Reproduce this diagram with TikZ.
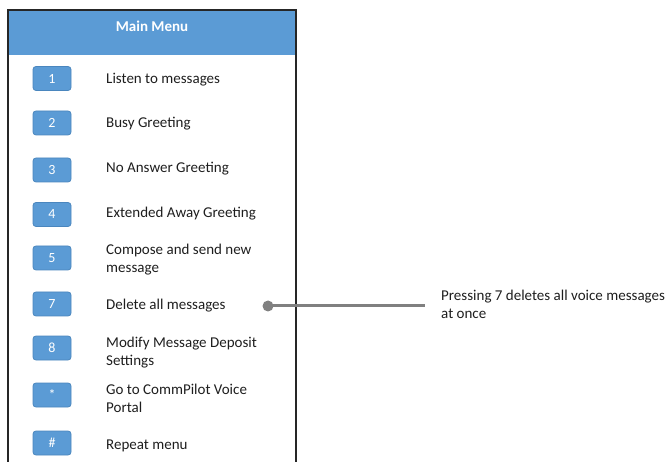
\documentclass[tikz,border=0pt]{standalone}
\usepackage{fontspec}
\setmainfont{Carlito}
\begin{document}
\begin{tikzpicture}[x=1pt,y=-1pt,
  keybtn/.style={draw=keyedge,fill=keyblue,rounded corners=3pt,line width=0.8pt,
    minimum width=38pt,minimum height=24pt,inner sep=0pt,text=white,font=\fontsize{14}{14}\selectfont},
  itemtxt/.style={anchor=west,align=left,text=txt,font=\fontsize{15}{18}\selectfont,inner sep=0pt},
  callout/.style={draw=callgray,line width=3pt}
]
\definecolor{keyblue}{HTML}{5B9BD5}
\definecolor{keyedge}{HTML}{4A86BE}
\definecolor{txt}{HTML}{1E1E1E}
\definecolor{callgray}{HTML}{808080}
\useasboundingbox (0,0) rectangle (672,462);

% header band and frame (open at the bottom)
\fill[keyblue] (8,10) rectangle (296,55);
\node[text=white,font=\bfseries\fontsize{15}{15}\selectfont] (title) at (152,26) {Main Menu};
\draw[line width=1.6pt,black!85] (8,470) -- (8,10) -- (296,10) -- (296,470);

% menu keys
\node[keybtn] (k1) at (52,78.5) {1};
\node[keybtn] (k2) at (52,123) {2};
\node[keybtn] (k3) at (52,170) {3};
\node[keybtn] (k4) at (52,214.5) {4};
\node[keybtn] (k5) at (52,258) {5};
\node[keybtn] (k7) at (52,304) {7};
\node[keybtn] (k8) at (52,348) {8};
\node[keybtn] (kst) at (52,395) {*};
\node[keybtn] (kh) at (52,443) {\#};

% menu labels
\node[itemtxt] (t1) at (106,80) {Listen to messages};
\node[itemtxt] (t2) at (106,124) {Busy Greeting};
\node[itemtxt] (t3) at (106,169) {No Answer Greeting};
\node[itemtxt] (t4) at (106,214) {Extended Away Greeting};
\node[itemtxt] (t5) at (106,260) {Compose and send new\\message};
\node[itemtxt] (t7) at (106,306) {Delete all messages};
\node[itemtxt] (t8) at (106,352.5) {Modify Message Deposit\\Settings};
\node[itemtxt] (tst) at (106,398) {Go to CommPilot Voice\\Portal};
\node[itemtxt] (th) at (106,446) {Repeat menu};

% callout for key 7
\coordinate (dot) at (268,306);
\coordinate (lineend) at (425,306);
\node[itemtxt] (note) at (441,304) {Pressing 7 deletes all voice messages\\at once};
\draw[callout] (dot) -- (lineend);
\fill[callgray] (dot) circle (5.5pt);
\end{tikzpicture}
\end{document}
